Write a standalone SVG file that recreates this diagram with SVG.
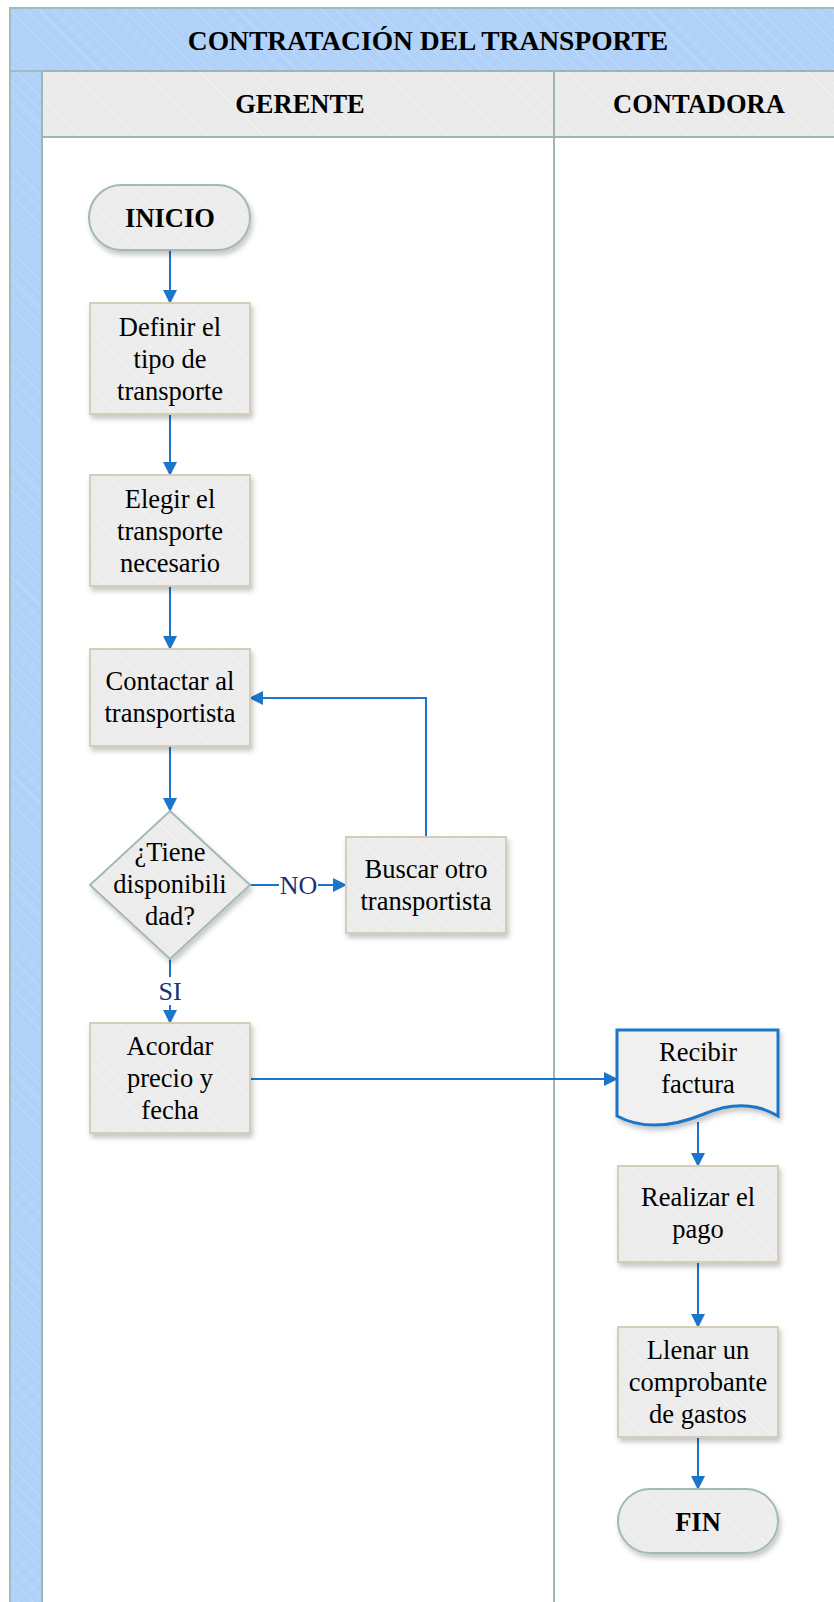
<svg xmlns="http://www.w3.org/2000/svg" width="834" height="1602" viewBox="0 0 834 1602">
  <style>
    .lbl { font-family: "Liberation Serif", "Times New Roman", serif; font-size: 26.5px; fill: #000; text-anchor: middle; }
    .bold { font-weight: bold; }
    .title { font-size: 27.5px; }
    .cond { font-family: "Liberation Serif", "Times New Roman", serif; font-size: 26px; fill: #1a3272; text-anchor: middle; }
    .proc { fill: url(#hatchNode); stroke: #d3cdb9; stroke-width: 2; }
    .term { fill: url(#hatchNode); stroke: #a3b9b6; stroke-width: 2; }
    .flow { fill: none; stroke: #1c75c8; stroke-width: 2; }
    .arrow { marker-end: url(#head); }
  </style>
  <defs>
    <pattern id="hatchBlue" patternUnits="userSpaceOnUse" width="10" height="10" patternTransform="rotate(-45)">
      <rect width="10" height="10" fill="#b1d2f8"/>
      <line x1="0" y1="0" x2="0" y2="10" stroke="#c4dcf9" stroke-width="1.5"/>
    </pattern>
    <pattern id="hatchGray" patternUnits="userSpaceOnUse" width="10" height="10" patternTransform="rotate(-45)">
      <rect width="10" height="10" fill="#eaeaea"/>
      <line x1="0" y1="0" x2="0" y2="10" stroke="#f3f3f3" stroke-width="1.5"/>
    </pattern>
    <pattern id="hatchNode" patternUnits="userSpaceOnUse" width="10" height="10" patternTransform="rotate(-45)">
      <rect width="10" height="10" fill="#ececec"/>
      <line x1="0" y1="0" x2="0" y2="10" stroke="#f4f4f4" stroke-width="1.5"/>
    </pattern>
    <filter id="shadow" x="-10%" y="-10%" width="130%" height="130%">
      <feDropShadow dx="2" dy="4" stdDeviation="2.5" flood-color="#000" flood-opacity="0.22"/>
    </filter>
    <marker id="head" viewBox="0 0 14 14" refX="13" refY="7" markerWidth="14" markerHeight="14" markerUnits="userSpaceOnUse" orient="auto">
      <path d="M0,0 L14,7 L0,14 Z" fill="#1c75c8"/>
    </marker>
  </defs>

  <rect width="834" height="1602" fill="#ffffff"/>

  <!-- pool and lanes -->
  <g id="pool">
    <rect x="10" y="8" width="840" height="63" fill="url(#hatchBlue)" stroke="#9fbcc0" stroke-width="2"/>
    <rect x="10" y="71" width="32" height="1540" fill="url(#hatchBlue)" stroke="#9fbcc0" stroke-width="2"/>
    <text class="lbl bold title" x="428" y="50">CONTRATACIÓN DEL TRANSPORTE</text>
  </g>
  <g id="lane-gerente">
    <rect x="42" y="71" width="512" height="66" fill="url(#hatchGray)" stroke="#9fb5b3" stroke-width="2"/>
    <rect x="42" y="137" width="512" height="1475" fill="#ffffff" stroke="#9fb5b3" stroke-width="2"/>
    <text class="lbl bold" x="300" y="113">GERENTE</text>
  </g>
  <g id="lane-contadora">
    <rect x="554" y="71" width="300" height="66" fill="url(#hatchGray)" stroke="#9fb5b3" stroke-width="2"/>
    <rect x="554" y="137" width="300" height="1475" fill="#ffffff" stroke="#9fb5b3" stroke-width="2"/>
    <text class="lbl bold" x="699" y="113">CONTADORA</text>
  </g>

  <!-- connectors -->
  <g id="connectors">
    <line class="flow arrow" x1="170" y1="250" x2="170" y2="303"/>
    <line class="flow arrow" x1="170" y1="414" x2="170" y2="475"/>
    <line class="flow arrow" x1="170" y1="586" x2="170" y2="649"/>
    <line class="flow arrow" x1="170" y1="746" x2="170" y2="811"/>
    <line class="flow" x1="250" y1="885" x2="279" y2="885"/>
    <line class="flow arrow" x1="318" y1="885" x2="346" y2="885"/>
    <text class="cond" x="298.5" y="894">NO</text>
    <polyline class="flow arrow" points="426,837 426,698 250,698"/>
    <line class="flow" x1="170" y1="959" x2="170" y2="977"/>
    <line class="flow arrow" x1="170" y1="1005" x2="170" y2="1023"/>
    <text class="cond" x="170" y="1000">SI</text>
    <line class="flow arrow" x1="250" y1="1079" x2="617" y2="1079"/>
    <line class="flow arrow" x1="698" y1="1122" x2="698" y2="1166"/>
    <line class="flow arrow" x1="698" y1="1262" x2="698" y2="1327"/>
    <line class="flow arrow" x1="698" y1="1437" x2="698" y2="1489"/>
  </g>

  <!-- nodes -->
  <g id="inicio">
    <rect class="term" x="89" y="185" width="161" height="65" rx="32.5" filter="url(#shadow)"/>
    <text class="lbl bold" x="170" y="227">INICIO</text>
  </g>
  <g id="definir">
    <rect class="proc" x="90" y="303" width="160" height="111" filter="url(#shadow)"/>
    <text class="lbl" x="170" y="336">Definir el</text>
    <text class="lbl" x="170" y="368">tipo de</text>
    <text class="lbl" x="170" y="400">transporte</text>
  </g>
  <g id="elegir">
    <rect class="proc" x="90" y="475" width="160" height="111" filter="url(#shadow)"/>
    <text class="lbl" x="170" y="508">Elegir el</text>
    <text class="lbl" x="170" y="540">transporte</text>
    <text class="lbl" x="170" y="572">necesario</text>
  </g>
  <g id="contactar">
    <rect class="proc" x="90" y="649" width="160" height="97" filter="url(#shadow)"/>
    <text class="lbl" x="170" y="690">Contactar al</text>
    <text class="lbl" x="170" y="722">transportista</text>
  </g>
  <g id="disponibilidad">
    <polygon class="term" points="170,811 250,885 170,959 90,885" filter="url(#shadow)"/>
    <text class="lbl" x="170" y="861">¿Tiene</text>
    <text class="lbl" x="170" y="893">disponibili</text>
    <text class="lbl" x="170" y="925">dad?</text>
  </g>
  <g id="buscar">
    <rect class="proc" x="346" y="837" width="160" height="96" filter="url(#shadow)"/>
    <text class="lbl" x="426" y="878">Buscar otro</text>
    <text class="lbl" x="426" y="910">transportista</text>
  </g>
  <g id="acordar">
    <rect class="proc" x="90" y="1023" width="160" height="110" filter="url(#shadow)"/>
    <text class="lbl" x="170" y="1055">Acordar</text>
    <text class="lbl" x="170" y="1087">precio y</text>
    <text class="lbl" x="170" y="1119">fecha</text>
  </g>
  <g id="recibir">
    <path d="M617,1030 H778 V1116 C758,1104 735,1101 704,1114 C675,1126 645,1131 617,1116 Z" fill="#f0f0f0" stroke="#1c75c8" stroke-width="3" filter="url(#shadow)"/>
    <text class="lbl" x="698" y="1061">Recibir</text>
    <text class="lbl" x="698" y="1093">factura</text>
  </g>
  <g id="realizar">
    <rect class="proc" x="618" y="1166" width="160" height="96" filter="url(#shadow)"/>
    <text class="lbl" x="698" y="1206">Realizar el</text>
    <text class="lbl" x="698" y="1238">pago</text>
  </g>
  <g id="llenar">
    <rect class="proc" x="618" y="1327" width="160" height="110" filter="url(#shadow)"/>
    <text class="lbl" x="698" y="1359">Llenar un</text>
    <text class="lbl" x="698" y="1391">comprobante</text>
    <text class="lbl" x="698" y="1423">de gastos</text>
  </g>
  <g id="fin">
    <rect class="term" x="618" y="1489" width="160" height="64" rx="32" filter="url(#shadow)"/>
    <text class="lbl bold" x="698" y="1531">FIN</text>
  </g>
</svg>
